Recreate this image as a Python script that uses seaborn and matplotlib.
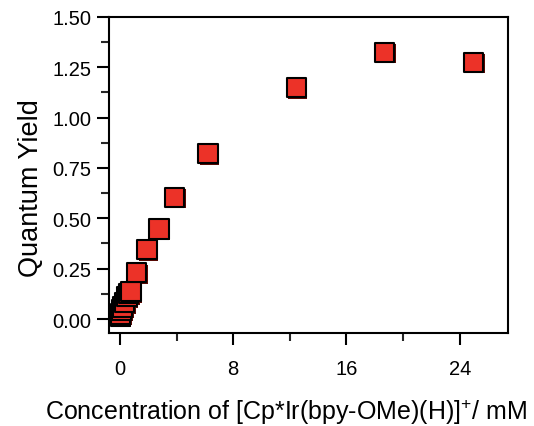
import matplotlib
matplotlib.use("Agg")
import matplotlib.pyplot as plt
import matplotlib.patheffects as pe
from matplotlib.ticker import MultipleLocator, FormatStrFormatter
import seaborn as sns
import pandas as pd

# concentration (mM) and quantum yield
conc = [0.02, 0.05, 0.12, 0.2, 0.31, 0.5, 0.62, 0.78, 1.18, 1.91, 2.76, 3.84, 6.22, 12.45, 18.7, 25.0]
qy = [0.015, 0.025, 0.045, 0.06, 0.08, 0.11, 0.125, 0.135, 0.23, 0.345, 0.447, 0.605, 0.82, 1.15, 1.325, 1.275]

df = pd.DataFrame({'conc': conc, 'qy': qy})

sns.set_style('ticks')
plt.rcParams['font.family'] = ['Liberation Sans', 'DejaVu Sans']
plt.rcParams['mathtext.fontset'] = 'custom'
plt.rcParams['mathtext.rm'] = 'Liberation Sans'
plt.rcParams['text.color'] = 'black'
plt.rcParams['axes.labelcolor'] = 'black'

fig = plt.figure(figsize=(5.34, 4.27), dpi=100)
ax = fig.add_axes([0.204, 0.218, 0.747, 0.740])

sns.scatterplot(data=df, x='conc', y='qy', marker='s', s=190, color='#ec3228',
                edgecolor='black', linewidth=1.5, ax=ax, zorder=3)
for coll in ax.collections:
    coll.set_path_effects([pe.SimplePatchShadow(offset=(1.2, -1.2), shadow_rgbFace='#5a0a05', alpha=1.0),
                           pe.Normal()])

ax.set_xlim(-0.78, 27.4)
ax.set_ylim(-0.069, 1.5)
ax.xaxis.set_major_locator(MultipleLocator(8))
ax.xaxis.set_minor_locator(MultipleLocator(4))
ax.yaxis.set_major_locator(MultipleLocator(0.25))
ax.yaxis.set_minor_locator(MultipleLocator(0.125))
ax.yaxis.set_major_formatter(FormatStrFormatter('%.2f'))

for s in ax.spines.values():
    s.set_linewidth(1.5)
    s.set_color('black')
ax.tick_params(which='major', direction='out', length=8.5, width=1.5, labelsize=14.5, colors='black')
ax.tick_params(which='minor', direction='out', length=5.5, width=1.5)
ax.tick_params(axis='x', which='major', pad=10)
ax.tick_params(axis='y', which='major', pad=4)

ax.set_xlabel('Concentration of [Cp*Ir(bpy-OMe)(H)]$^{+}$/ mM', fontsize=18)
ax.set_ylabel('Quantum Yield', fontsize=19.5)
ax.xaxis.set_label_coords(0.445, -0.203)
ax.yaxis.set_label_coords(-0.162, 0.462)

fig.savefig('out.png', dpi=100)
